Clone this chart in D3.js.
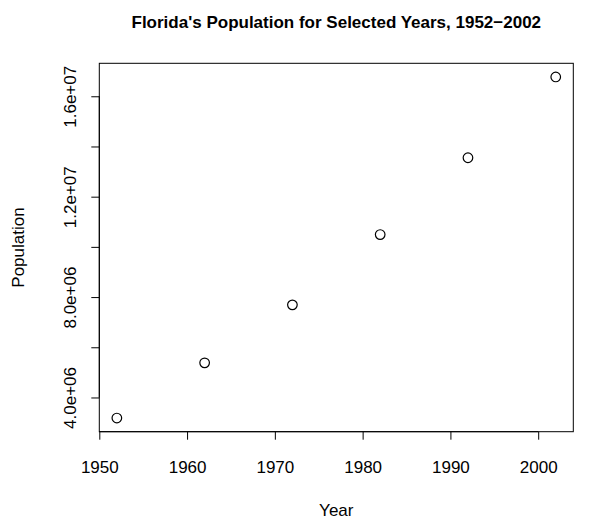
<!DOCTYPE html>
<html><head><meta charset="utf-8">
<script src="https://cdn.jsdelivr.net/npm/d3@7"></script>
<style>body{margin:0;background:#fff}svg{display:block}text{font-family:"Liberation Sans",Arial,Helvetica,sans-serif}</style>
</head><body>
<script>
const years = [1952, 1962, 1972, 1982, 1992, 2002];
const population = [3180000, 5380000, 7690000, 10490000, 13550000, 16770000];
const xTicks = [1950, 1960, 1970, 1980, 1990, 2000];
const yTicks = [4e6, 6e6, 8e6, 1e7, 1.2e7, 1.4e7, 1.6e7];
const yTickLabels = ["4.0e+06", "", "8.0e+06", "", "1.2e+07", "", "1.6e+07"];
const title = "Florida's Population for Selected Years, 1952\u22122002";
const xTitle = "Year", yTitle = "Population";

const W = 607, H = 521;
const L = 99.3, R = 573.3, T = 63.3, B = 431.7;
const FS = 17, FT = 17;
const svg = d3.select("body").append("svg").attr("width", W).attr("height", H);

const xr = d3.extent(years), xp = (xr[1]-xr[0])*0.04;
const yr = d3.extent(population), yp = (yr[1]-yr[0])*0.04;
const x = d3.scaleLinear().domain([xr[0]-xp, xr[1]+xp]).range([L, R]);
const y = d3.scaleLinear().domain([yr[0]-yp, yr[1]+yp]).range([B, T]);

svg.append("rect").attr("x", L).attr("y", T).attr("width", R-L).attr("height", B-T)
  .attr("fill", "none").attr("stroke", "#000").attr("stroke-width", 1);

const xa = svg.append("g").attr("transform", `translate(0,${B})`)
  .call(d3.axisBottom(x).tickValues(xTicks).tickFormat(d3.format("d")).tickSizeOuter(0).tickSize(8));
xa.select(".domain").attr("d", `M${x(xTicks[0])},0H${x(xTicks[xTicks.length-1])}`);
xa.selectAll(".tick text").attr("font-size", FS).attr("font-family", "Liberation Sans, Arial, sans-serif").attr("fill","#000")
  .attr("dy", null).attr("y", 41.5);

const ya = svg.append("g").attr("transform", `translate(${L},0)`)
  .call(d3.axisLeft(y).tickValues(yTicks).tickFormat((d,i)=>yTickLabels[i]).tickSizeOuter(0).tickSize(8));
ya.select(".domain").attr("d", `M0,${y(yTicks[0])}V${y(yTicks[yTicks.length-1])}`);
ya.selectAll(".tick text").attr("font-size", FS).attr("font-family", "Liberation Sans, Arial, sans-serif").attr("fill","#000")
  .attr("x", null).attr("dy", null).attr("text-anchor", "middle")
  .attr("transform", "translate(-23,0) rotate(-90)");

svg.selectAll("circle.pt").data(years).enter().append("circle").attr("class","pt")
  .attr("cx", (d)=>x(d)).attr("cy", (d,i)=>y(population[i])).attr("r", 4.8)
  .attr("fill", "none").attr("stroke", "#000").attr("stroke-width", 1.2);

svg.append("text").attr("x", (L+R)/2).attr("y", 28).attr("text-anchor", "middle")
  .attr("font-weight", "bold").attr("font-size", FT).text(title);
svg.append("text").attr("x", (L+R)/2).attr("y", 516).attr("text-anchor", "middle")
  .attr("font-size", FS).text(xTitle);
svg.append("text").attr("transform", `translate(24,${(T+B)/2}) rotate(-90)`).attr("text-anchor", "middle")
  .attr("font-size", FS).text(yTitle);
</script>
</body></html>
